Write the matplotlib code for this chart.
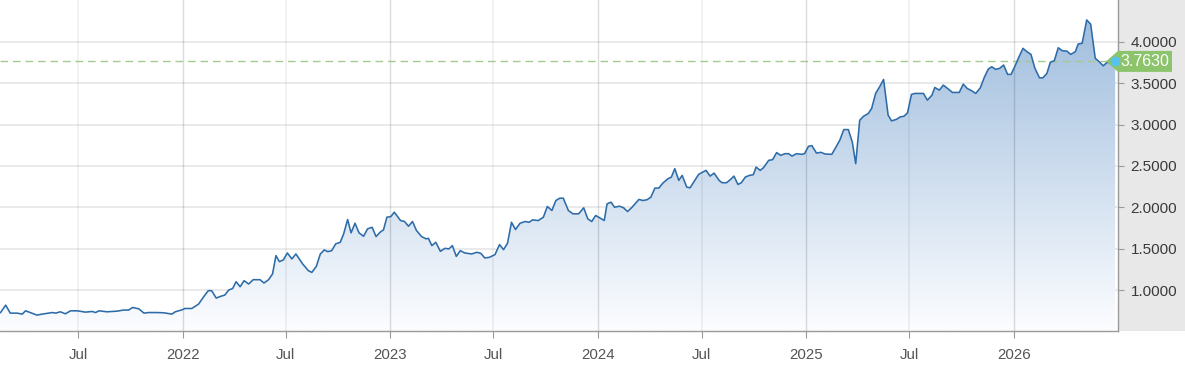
import numpy as np
import pandas as pd
import matplotlib
matplotlib.use("Agg")
import matplotlib.pyplot as plt
import matplotlib.dates as mdates
from matplotlib.patches import Polygon, Rectangle
from matplotlib.transforms import blended_transform_factory

plt.rcParams['font.family'] = ['Liberation Sans', 'DejaVu Sans']

# ---------------- data ----------------
dates_2021 = ["2021-02-15", "2021-02-24", "2021-03-04", "2021-03-16", "2021-03-25", "2021-03-31",
              "2021-04-20", "2021-04-29", "2021-05-17", "2021-05-23", "2021-05-31", "2021-06-09",
              "2021-06-18", "2021-06-30", "2021-07-14", "2021-07-26", "2021-08-01", "2021-08-07",
              "2021-08-21", "2021-09-08", "2021-09-19", "2021-09-28", "2021-10-05", "2021-10-16",
              "2021-10-25", "2021-11-02", "2021-11-17", "2021-11-29", "2021-12-13", "2021-12-19",
              "2021-12-31"]
values_2021 = [0.728, 0.818, 0.721, 0.721, 0.709, 0.749,
               0.697, 0.709, 0.728, 0.721, 0.737, 0.713,
               0.749, 0.749, 0.733, 0.741, 0.728, 0.749,
               0.737, 0.745, 0.758, 0.758, 0.789, 0.773,
               0.721, 0.728, 0.728, 0.725, 0.709, 0.737,
               0.761]

dates_2022 = ["2022-01-05", "2022-01-17", "2022-01-29", "2022-02-07", "2022-02-15", "2022-02-21",
              "2022-03-01", "2022-03-08", "2022-03-16", "2022-03-23", "2022-03-30", "2022-04-05",
              "2022-04-12", "2022-04-19", "2022-04-27", "2022-05-05", "2022-05-17", "2022-05-24",
              "2022-06-01", "2022-06-08", "2022-06-14", "2022-06-20", "2022-06-27", "2022-07-04",
              "2022-07-12", "2022-07-19", "2022-07-31", "2022-08-10", "2022-08-16", "2022-08-24",
              "2022-08-31", "2022-09-07", "2022-09-13", "2022-09-20", "2022-09-27", "2022-10-05",
              "2022-10-11", "2022-10-18", "2022-10-24", "2022-10-31", "2022-11-07", "2022-11-15",
              "2022-11-22", "2022-11-30", "2022-12-07", "2022-12-14", "2022-12-20", "2022-12-26"]
values_2022 = [0.777, 0.777, 0.830, 0.919, 0.992, 0.992,
               0.903, 0.922, 0.939, 1.000, 1.019, 1.101,
               1.040, 1.113, 1.073, 1.125, 1.125, 1.085,
               1.125, 1.194, 1.416, 1.343, 1.364, 1.448,
               1.376, 1.436, 1.315, 1.234, 1.213, 1.286,
               1.436, 1.485, 1.464, 1.476, 1.558, 1.577,
               1.679, 1.852, 1.691, 1.807, 1.691, 1.650,
               1.739, 1.759, 1.646, 1.698, 1.727, 1.880]

dates_2023 = ["2023-01-02", "2023-01-08", "2023-01-19", "2023-01-26", "2023-02-02", "2023-02-09",
              "2023-02-16", "2023-02-25", "2023-03-05", "2023-03-09", "2023-03-15", "2023-03-22",
              "2023-03-30", "2023-04-07", "2023-04-14", "2023-04-20", "2023-04-27", "2023-05-04",
              "2023-05-12", "2023-05-24", "2023-06-02", "2023-06-09", "2023-06-16", "2023-06-24",
              "2023-07-04", "2023-07-12", "2023-07-19", "2023-07-26", "2023-08-02", "2023-08-09",
              "2023-08-17", "2023-08-26", "2023-09-02", "2023-09-08", "2023-09-18", "2023-09-27",
              "2023-10-04", "2023-10-12", "2023-10-19", "2023-10-26", "2023-11-01", "2023-11-10",
              "2023-11-18", "2023-11-28", "2023-12-07", "2023-12-14", "2023-12-21", "2023-12-28"]
values_2023 = [1.888, 1.941, 1.840, 1.828, 1.771, 1.828,
               1.719, 1.646, 1.618, 1.625, 1.537, 1.577,
               1.468, 1.504, 1.497, 1.537, 1.407, 1.476,
               1.448, 1.436, 1.456, 1.444, 1.388, 1.395,
               1.428, 1.549, 1.488, 1.565, 1.819, 1.731,
               1.807, 1.828, 1.819, 1.848, 1.840, 1.880,
               2.010, 1.961, 2.082, 2.110, 2.110, 1.961,
               1.921, 1.921, 1.994, 1.861, 1.828, 1.901]

dates_2024 = ["2024-01-04", "2024-01-12", "2024-01-17", "2024-01-24", "2024-01-30", "2024-02-08",
              "2024-02-15", "2024-02-22", "2024-03-01", "2024-03-13", "2024-03-20", "2024-03-27",
              "2024-04-03", "2024-04-10", "2024-04-17", "2024-04-24", "2024-05-03", "2024-05-09",
              "2024-05-15", "2024-05-22", "2024-05-28", "2024-06-05", "2024-06-11", "2024-06-18",
              "2024-06-26", "2024-07-03", "2024-07-09", "2024-07-16", "2024-07-23", "2024-08-01",
              "2024-08-06", "2024-08-14", "2024-08-21", "2024-08-27", "2024-09-03", "2024-09-09",
              "2024-09-16", "2024-09-23", "2024-09-30", "2024-10-05", "2024-10-12", "2024-10-18",
              "2024-10-27", "2024-11-03", "2024-11-10", "2024-11-17", "2024-11-25", "2024-12-01",
              "2024-12-07", "2024-12-15", "2024-12-24", "2024-12-29"]
values_2024 = [1.873, 1.840, 2.042, 2.062, 2.001, 2.013,
               1.994, 1.949, 2.001, 2.095, 2.082, 2.091,
               2.122, 2.232, 2.232, 2.292, 2.345, 2.365,
               2.467, 2.325, 2.385, 2.244, 2.236, 2.313,
               2.398, 2.425, 2.446, 2.377, 2.413, 2.325,
               2.297, 2.297, 2.337, 2.377, 2.276, 2.297,
               2.365, 2.385, 2.394, 2.486, 2.446, 2.479,
               2.567, 2.576, 2.661, 2.628, 2.648, 2.648,
               2.619, 2.648, 2.640, 2.648]

dates_2025 = ["2025-01-05", "2025-01-11", "2025-01-19", "2025-01-27", "2025-02-03", "2025-02-15",
              "2025-02-23", "2025-03-01", "2025-03-08", "2025-03-16", "2025-03-23", "2025-03-29",
              "2025-04-05", "2025-04-12", "2025-04-20", "2025-04-26", "2025-05-03", "2025-05-10",
              "2025-05-17", "2025-05-25", "2025-05-31", "2025-06-09", "2025-06-15", "2025-06-22",
              "2025-06-28", "2025-07-05", "2025-07-11", "2025-07-26", "2025-08-02", "2025-08-10",
              "2025-08-15", "2025-08-23", "2025-08-30", "2025-09-08", "2025-09-15", "2025-09-27",
              "2025-10-04", "2025-10-11", "2025-10-19", "2025-10-26", "2025-11-03", "2025-11-10",
              "2025-11-17", "2025-11-23", "2025-11-30", "2025-12-07", "2025-12-14", "2025-12-21",
              "2025-12-27"]
values_2025 = [2.737, 2.745, 2.656, 2.664, 2.644, 2.640,
               2.737, 2.810, 2.939, 2.939, 2.789, 2.527,
               3.052, 3.101, 3.133, 3.194, 3.376, 3.456,
               3.545, 3.113, 3.044, 3.064, 3.092, 3.101,
               3.141, 3.364, 3.376, 3.376, 3.295, 3.355,
               3.448, 3.416, 3.476, 3.428, 3.388, 3.388,
               3.488, 3.436, 3.407, 3.376, 3.444, 3.570,
               3.670, 3.698, 3.667, 3.679, 3.719, 3.606,
               3.606]

dates_2026 = ["2026-01-03", "2026-01-10", "2026-01-17", "2026-01-24", "2026-01-31", "2026-02-07",
              "2026-02-15", "2026-02-21", "2026-02-28", "2026-03-06", "2026-03-13", "2026-03-20",
              "2026-03-27", "2026-04-04", "2026-04-11", "2026-04-19", "2026-04-24", "2026-05-01",
              "2026-05-09", "2026-05-16", "2026-05-24", "2026-05-31", "2026-06-07", "2026-06-14",
              "2026-06-22", "2026-06-28"]
values_2026 = [3.707, 3.819, 3.921, 3.880, 3.848, 3.679,
               3.565, 3.565, 3.618, 3.752, 3.771, 3.928,
               3.892, 3.888, 3.848, 3.880, 3.973, 3.982,
               4.264, 4.212, 3.800, 3.759, 3.710, 3.752,
               3.739, 3.763]

last_value = 3.7630
y_ticks = [1.0, 1.5, 2.0, 2.5, 3.0, 3.5, 4.0]
x_ticks = ["2021-07-01", "2022-01-01", "2022-07-01", "2023-01-01", "2023-07-01",
           "2024-01-01", "2024-07-01", "2025-01-01", "2025-07-01", "2026-01-01"]
x_tick_labels = ["Jul", "2022", "Jul", "2023", "Jul", "2024", "Jul", "2025", "Jul", "2026"]
x_range = ["2021-02-14", "2026-07-03"]
y_range = [0.505, 4.505]

# ---------------- figure ----------------
W, H = 1185, 365
fig = plt.figure(figsize=(W / 100, H / 100), dpi=100)
ax_r = 1118 / W
ax_b = 34 / H
fig.patches.append(Rectangle((ax_r, ax_b), 1 - ax_r, 1 - ax_b, transform=fig.transFigure,
                             facecolor='#e8e8e8', edgecolor='none', zorder=-5))
ax = fig.add_axes([0, ax_b, ax_r, 1 - ax_b])
ax.set_zorder(1)

dates = pd.to_datetime(dates_2021 + dates_2022 + dates_2023 + dates_2024 + dates_2025 + dates_2026)
values = np.array(values_2021 + values_2022 + values_2023 + values_2024 + values_2025 + values_2026)
xn = mdates.date2num(dates)
xmin, xmax = mdates.date2num(pd.to_datetime(x_range))
ymin, ymax = y_range

# horizontal grid (beneath the fill)
for yt in y_ticks:
    ax.axhline(yt, color='#e8e8e8', lw=1.3, zorder=0.5)

# gradient fill
coll = ax.fill_between(xn, values, ymin, facecolor='none', edgecolor='none')
t = np.linspace(0, 1, 256)[:, None]
top = np.array([155, 186, 220]) / 255
bot = np.array([252, 253, 255]) / 255
img = (top[None, None, :] * (1 - t[..., None]) + bot[None, None, :] * t[..., None])
im = ax.imshow(img, extent=[xmin, xmax, ymin, ymax], aspect='auto', origin='upper', zorder=1,
               interpolation='bilinear')
im.set_clip_path(coll.get_paths()[0], transform=ax.transData)

# vertical grid (faintly visible over the fill)
tick_nums = mdates.date2num(pd.to_datetime(x_ticks))
for xt, lab in zip(tick_nums, x_tick_labels):
    if lab == "Jul":
        ax.axvline(xt, color='black', alpha=0.06, lw=1.2, zorder=2)
    else:
        ax.axvline(xt, color='black', alpha=0.14, lw=1.0, zorder=2)

# dashed last-value line
ax.axhline(last_value, color='#a5c98f', lw=1.0, ls=(0, (5.5, 3.5)), zorder=2.5)

# line
ax.plot(xn, values, color='#2d6ca8', lw=1.15, zorder=3, solid_joinstyle='round')

ax.set_xlim(xmin, xmax)
ax.set_ylim(ymin, ymax)

for s in ['top', 'left']:
    ax.spines[s].set_visible(False)
for s in ['bottom', 'right']:
    ax.spines[s].set_color('#9a9a9a')
    ax.spines[s].set_linewidth(1.0)

ax.yaxis.tick_right()
ax.set_yticks(y_ticks)
ax.set_yticklabels([f"{v:.4f}" for v in y_ticks])
ax.tick_params(axis='y', direction='out', length=4, color='#9a9a9a', labelsize=11,
               labelcolor='#3a3a3a', pad=5)
ax.set_xticks(tick_nums)
ax.set_xticklabels(x_tick_labels)
ax.tick_params(axis='x', direction='out', length=5, color='#9a9a9a', labelsize=10.8,
               labelcolor='#555555', pad=7)

# last value label
trans = blended_transform_factory(fig.transFigure, ax.transData)
hh = 10.5 / (331 / (ymax - ymin))
pts = [(1106 / W, last_value), (1118 / W, last_value + hh), (1172 / W, last_value + hh),
       (1172 / W, last_value - hh), (1118 / W, last_value - hh)]
poly = Polygon(pts, closed=True, transform=trans, facecolor='#8cc46b', edgecolor='none',
               clip_on=False, zorder=6)
ax.add_artist(poly)
ax.text(1145 / W, last_value, f"{last_value:.4f}", transform=trans, ha='center', va='center',
        color='white', fontsize=11.5, clip_on=False, zorder=7)
ax.plot([xn[-1]], [last_value], 'o', color='#55c3ee', ms=7, mec='none', clip_on=False, zorder=8)

fig.savefig('out.png', dpi=100)
